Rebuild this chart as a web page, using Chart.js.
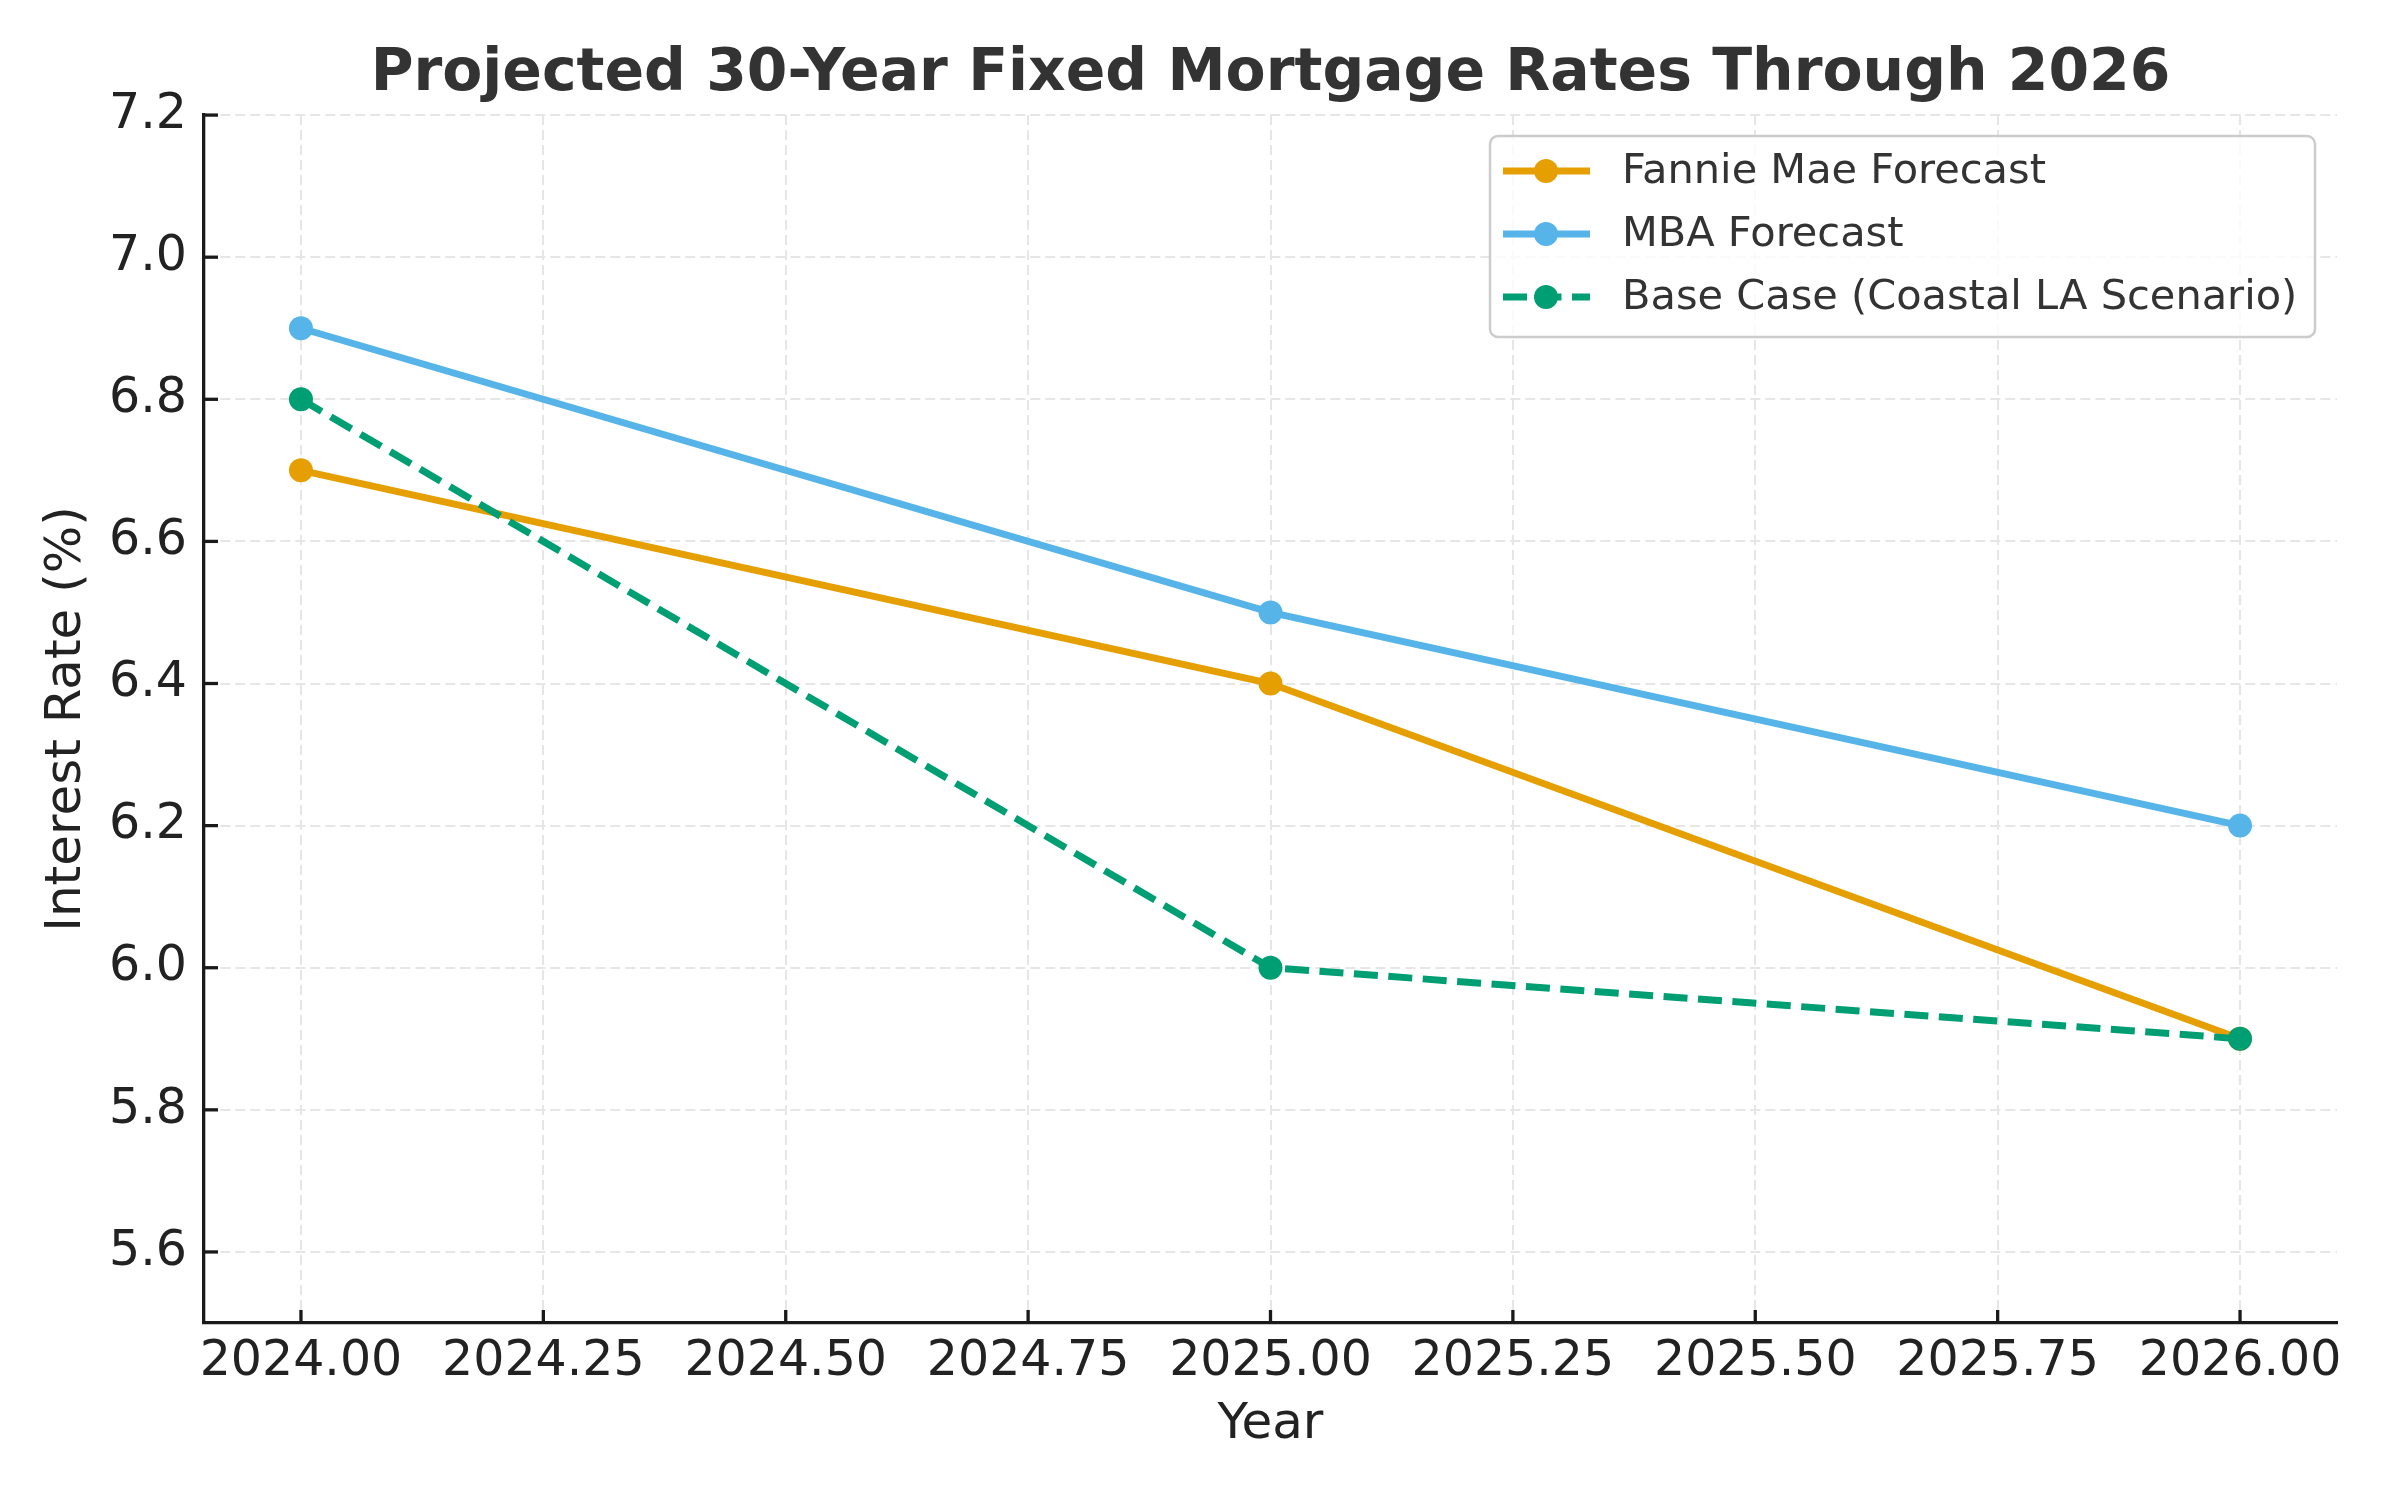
<!DOCTYPE html>
<html>
<head>
<meta charset="utf-8">
<script src="https://cdn.jsdelivr.net/npm/chart.js@4.4.0/dist/chart.umd.min.js"></script>
<style>
  html, body { margin: 0; padding: 0; background: #ffffff; }
  #wrap { width: 2400px; height: 1500px; }
</style>
</head>
<body>
<div id="wrap"><canvas id="rateChart" width="2400" height="1500"></canvas></div>
<script>
const years = [2024, 2025, 2026];
const fannieMae = [6.7, 6.4, 5.9];
const mba = [6.9, 6.5, 6.2];
const baseCase = [6.8, 6.0, 5.9];

const xTicks = [2024, 2024.25, 2024.5, 2024.75, 2025, 2025.25, 2025.5, 2025.75, 2026];
const yTicks = [5.6, 5.8, 6.0, 6.2, 6.4, 6.6, 6.8, 7.0, 7.2];

const FONT = "'DejaVu Sans', sans-serif";

function toPoints(values) {
    return years.map((x, i) => ({ x: x, y: values[i] }));
}

// center the title over the plot area instead of the whole canvas
const centerTitle = {
    id: 'centerTitle',
    afterLayout(chart) {
        if (chart.titleBlock) {
            chart.titleBlock.left = chart.chartArea.left;
            chart.titleBlock.right = chart.chartArea.right;
        }
    }
};

// ticks pointing into the plot, like the reference
const innerTicks = {
    id: 'innerTicks',
    afterDraw(chart) {
        const ctx = chart.ctx;
        const area = chart.chartArea;
        const xs = chart.scales.x;
        const ys = chart.scales.y;
        ctx.save();
        ctx.strokeStyle = '#1a1a1a';
        ctx.lineWidth = 3.3;
        xs.ticks.forEach(t => {
            const px = xs.getPixelForValue(t.value);
            ctx.beginPath();
            ctx.moveTo(px, area.bottom);
            ctx.lineTo(px, area.bottom - 13);
            ctx.stroke();
        });
        ys.ticks.forEach(t => {
            const py = ys.getPixelForValue(t.value);
            ctx.beginPath();
            ctx.moveTo(area.left, py);
            ctx.lineTo(area.left + 14, py);
            ctx.stroke();
        });
        ctx.restore();
    }
};

// boxed legend inside the plot, top right
const boxLegend = {
    id: 'boxLegend',
    afterDraw(chart) {
        const ctx = chart.ctx;
        const left = 1490, top = 136, w = 825, h = 201;
        const rowY = [171, 234, 297];
        ctx.save();
        ctx.beginPath();
        ctx.roundRect(left, top, w, h, 8);
        ctx.fillStyle = 'rgba(255,255,255,0.8)';
        ctx.fill();
        ctx.strokeStyle = '#cccccc';
        ctx.lineWidth = 2.5;
        ctx.stroke();

        chart.data.datasets.forEach((ds, i) => {
            const y = rowY[i];
            ctx.strokeStyle = ds.borderColor;
            ctx.lineWidth = ds.borderWidth;
            ctx.setLineDash(ds.borderDash || []);
            ctx.beginPath();
            ctx.moveTo(1503, y);
            ctx.lineTo(1590, y);
            ctx.stroke();
            ctx.setLineDash([]);
            ctx.fillStyle = ds.borderColor;
            ctx.beginPath();
            ctx.arc(1546, y, 12, 0, Math.PI * 2);
            ctx.fill();

            ctx.fillStyle = '#333333';
            ctx.font = '41.5px ' + FONT;
            ctx.textBaseline = 'middle';
            ctx.textAlign = 'left';
            ctx.fillText(ds.label, 1622, y + 1);
        });
        ctx.restore();
    }
};

const ctxRate = document.getElementById('rateChart').getContext('2d');

new Chart(ctxRate, {
    type: 'line',
    data: {
        datasets: [{
            label: 'Fannie Mae Forecast',
            data: toPoints(fannieMae),
            borderColor: '#E69F00',
            backgroundColor: '#E69F00',
            borderWidth: 7,
            pointRadius: 12,
            pointBorderWidth: 0,
            order: 2
        }, {
            label: 'MBA Forecast',
            data: toPoints(mba),
            borderColor: '#56B4E9',
            backgroundColor: '#56B4E9',
            borderWidth: 7,
            pointRadius: 12,
            pointBorderWidth: 0,
            order: 1
        }, {
            label: 'Base Case (Coastal LA Scenario)',
            data: toPoints(baseCase),
            borderColor: '#009E73',
            backgroundColor: '#009E73',
            borderWidth: 7,
            borderDash: [24, 10.5],
            pointRadius: 12,
            pointBorderWidth: 0,
            order: 0
        }]
    },
    options: {
        responsive: false,
        devicePixelRatio: 1,
        animation: false,
        layout: { padding: { top: 0, left: 0, right: 63, bottom: 0 } },
        plugins: {
            legend: { display: false },
            tooltip: { enabled: false },
            title: {
                display: true,
                text: 'Projected 30-Year Fixed Mortgage Rates Through 2026',
                color: '#333333',
                font: { family: FONT, size: 58.4, weight: 'bold', lineHeight: 1.2 },
                padding: { top: 40, bottom: 5 }
            }
        },
        scales: {
            x: {
                type: 'linear',
                min: 2023.9,
                max: 2026.1,
                afterBuildTicks: scale => { scale.ticks = xTicks.map(v => ({ value: v })); },
                afterFit: scale => { scale.height = 177; },
                ticks: {
                    color: '#222222',
                    font: { family: FONT, size: 49 },
                    padding: 10,
                    maxRotation: 0,
                    autoSkip: false,
                    callback: v => Number(v).toFixed(2)
                },
                grid: { color: '#e6e6e6', lineWidth: 2, drawTicks: false },
                border: { display: true, color: '#1a1a1a', width: 3.3, dash: [10, 5] },
                title: {
                    display: true,
                    text: 'Year',
                    color: '#222222',
                    font: { family: FONT, size: 50, lineHeight: 1.2 },
                    padding: { top: 0, bottom: 45 }
                }
            },
            y: {
                min: 5.5,
                max: 7.2,
                afterBuildTicks: scale => { scale.ticks = yTicks.map(v => ({ value: v })); },
                afterFit: scale => { scale.width = 204; },
                ticks: {
                    color: '#222222',
                    font: { family: FONT, size: 49 },
                    padding: 17,
                    callback: v => Number(v).toFixed(1)
                },
                grid: { color: '#e6e6e6', lineWidth: 2, drawTicks: false },
                border: { display: true, color: '#1a1a1a', width: 3.3, dash: [10, 5] },
                title: {
                    display: true,
                    text: 'Interest Rate (%)',
                    color: '#222222',
                    font: { family: FONT, size: 50, lineHeight: 1.2 },
                    padding: { top: 37, bottom: 0 }
                }
            }
        }
    },
    plugins: [centerTitle, innerTicks, boxLegend]
});
</script>
</body>
</html>
